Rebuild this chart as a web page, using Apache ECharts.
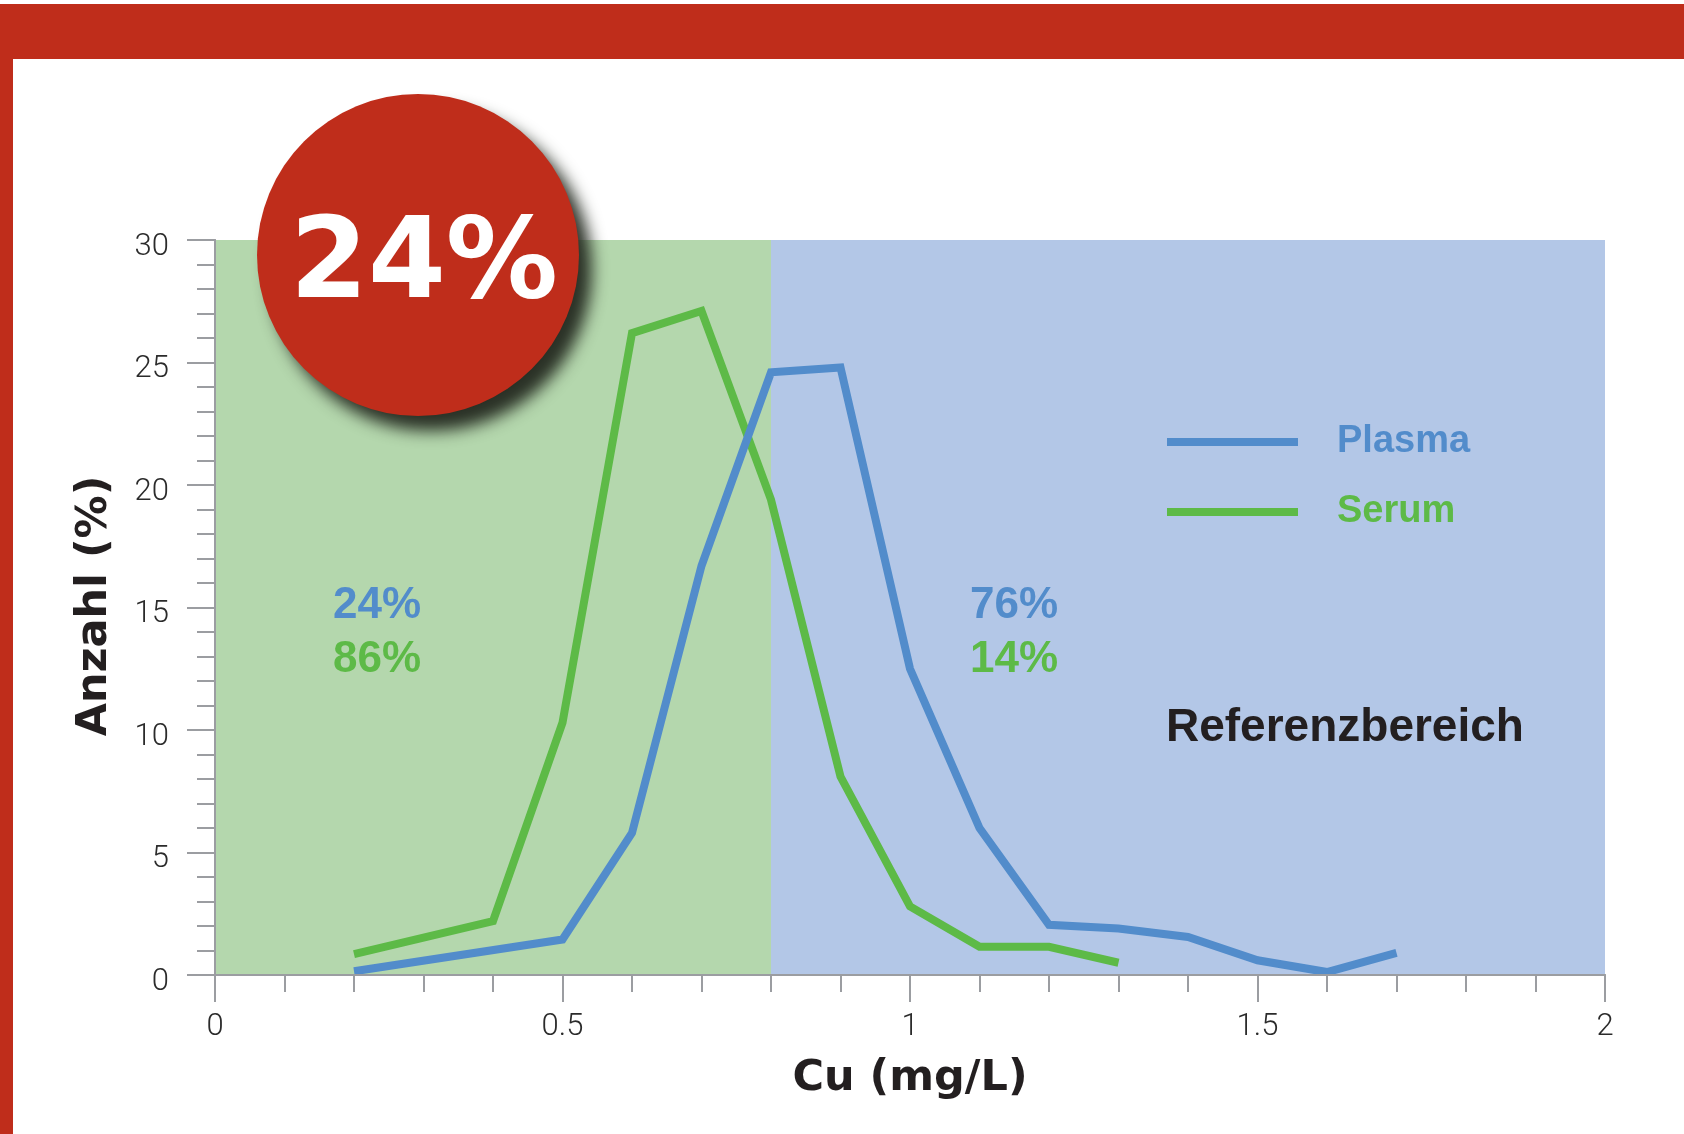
<!DOCTYPE html>
<html>
<head>
<meta charset="utf-8">
<script src="https://cdn.jsdelivr.net/npm/echarts@6/dist/echarts.min.js"></script>
<style>
  html, body { margin: 0; padding: 0; background: #ffffff; }
  #chart { width: 1684px; height: 1134px; }
</style>
</head>
<body>
<div id="chart"></div>
<script>
// Copper concentration (mg/L) and share of samples (%) per class
const plasmaCu  = [0.2, 0.5, 0.6, 0.7, 0.8, 0.9, 1.0, 1.1, 1.2, 1.3, 1.4, 1.5, 1.6, 1.7];
const plasmaPct = [0.15, 1.45, 5.8, 16.7, 24.6, 24.8, 12.5, 6.0, 2.05, 1.9, 1.55, 0.6, 0.12, 0.9];
const serumCu   = [0.2, 0.4, 0.5, 0.6, 0.7, 0.8, 0.9, 1.0, 1.1, 1.2, 1.3];
const serumPct  = [0.85, 2.2, 10.3, 26.2, 27.1, 19.4, 8.1, 2.8, 1.15, 1.15, 0.5];

// Reference range starts here and runs to the end of the axis
const referenceFrom = 0.8;
const cuAxisMax = 2;
const pctAxisMax = 30;

// Shares below / inside the reference range (Plasma, Serum)
const belowShares = ['24%', '86%'];
const insideShares = ['76%', '14%'];
const badgeText = '24%';

// Tick labels
const cuTickLabels  = { 0: '0', 0.5: '0.5', 1: '1', 1.5: '1.5', 2: '2' };
const pctTickLabels = { 0: '0', 5: '5', 10: '10', 15: '15', 20: '20', 25: '25', 30: '30' };

const seriesNames = ['Plasma', 'Serum'];
const BLUE = '#528ccb';
const GREEN = '#5dba47';
const RED = '#bf2d1b';
const AXIS_GREY = '#9b9da1';
const INK = '#231f20';

const pairs = (xs, ys) => xs.map((x, i) => [x, ys[i]]);

const tickFont = { fontFamily: 'Roboto', fontWeight: 300, fontSize: 31, color: '#2b2b2b' };
const shareFont = 'bold 44px "Liberation Sans"';

const chart = echarts.init(document.getElementById('chart'), null, { renderer: 'canvas' });

chart.setOption({
  animation: false,
  backgroundColor: '#ffffff',
  grid: { left: 215, right: 79, top: 240, bottom: 159, show: false },
  xAxis: [{
    type: 'value', min: 0, max: cuAxisMax, interval: 0.5, z: 5,
    axisLine: { show: true, lineStyle: { color: AXIS_GREY, width: 2 } },
    axisTick: { show: true, length: 27, lineStyle: { color: AXIS_GREY, width: 2 } },
    minorTick: { show: true, splitNumber: 5, length: 17, lineStyle: { color: AXIS_GREY, width: 2 } },
    splitLine: { show: false },
    axisLabel: Object.assign({ margin: 37, formatter: v => cuTickLabels[v] ?? '' }, tickFont),
    name: 'Cu (mg/L)', nameLocation: 'middle', nameGap: 82,
    nameTextStyle: { fontFamily: 'DejaVu Sans', fontWeight: 'bold', fontSize: 43, color: INK }
  }, {
    // closing line along the top of the plot
    type: 'value', position: 'top', min: 0, max: cuAxisMax, z: 5,
    axisLine: { show: true, lineStyle: { color: AXIS_GREY, width: 2 } },
    axisTick: { show: false }, axisLabel: { show: false }, splitLine: { show: false }
  }],
  yAxis: [{
    type: 'value', min: 0, max: pctAxisMax, interval: 5, z: 5,
    axisLine: { show: true, lineStyle: { color: AXIS_GREY, width: 2 } },
    axisTick: { show: true, length: 28, lineStyle: { color: AXIS_GREY, width: 2 } },
    minorTick: { show: true, splitNumber: 5, length: 18, lineStyle: { color: AXIS_GREY, width: 2 } },
    splitLine: { show: false },
    axisLabel: Object.assign({
      margin: 46, verticalAlign: 'top', lineHeight: 14,
      formatter: v => pctTickLabels[v] ?? ''
    }, tickFont)
  }, {
    // closing line along the right of the plot
    type: 'value', position: 'right', min: 0, max: pctAxisMax, z: 5,
    axisLine: { show: true, lineStyle: { color: AXIS_GREY, width: 2 } },
    axisTick: { show: false }, axisLabel: { show: false }, splitLine: { show: false }
  }],
  legend: {
    orient: 'vertical', left: 1162, top: 410, itemGap: 16,
    itemWidth: 131, itemHeight: 8, icon: 'rect',
    textStyle: { fontFamily: 'Liberation Sans', fontWeight: 'bold', fontSize: 38, lineHeight: 40, padding: [14, 0, 0, 34] },
    data: [
      { name: seriesNames[0], textStyle: { color: BLUE } },
      { name: seriesNames[1], textStyle: { color: GREEN } }
    ]
  },
  series: [{
    // shaded ranges: below the reference range and the reference range itself
    type: 'line', data: [], z: 1, silent: true,
    markArea: {
      silent: true,
      data: [
        [{ xAxis: 0, itemStyle: { color: '#b4d7ad' } }, { xAxis: referenceFrom }],
        [{ xAxis: referenceFrom, itemStyle: { color: '#b3c7e7' } }, { xAxis: cuAxisMax }]
      ]
    }
  }, {
    name: seriesNames[1], type: 'line', z: 3, symbol: 'none',
    color: GREEN, lineStyle: { color: GREEN, width: 8, join: 'miter' },
    data: pairs(serumCu, serumPct)
  }, {
    name: seriesNames[0], type: 'line', z: 4, symbol: 'none',
    color: BLUE, lineStyle: { color: BLUE, width: 8, join: 'miter' },
    data: pairs(plasmaCu, plasmaPct)
  }],
  graphic: [
    // red frame: band across the top and strip down the left edge
    { type: 'rect', z: 50, shape: { x: 0, y: 4, width: 1684, height: 55 }, style: { fill: RED } },
    { type: 'rect', z: 50, shape: { x: 0, y: 4, width: 13, height: 1130 }, style: { fill: RED } },
    // badge
    { type: 'circle', z: 100, shape: { cx: 418, cy: 255, r: 161 },
      style: { fill: RED, shadowBlur: 16, shadowColor: 'rgba(40,46,36,0.98)', shadowOffsetX: 13, shadowOffsetY: 15 } },
    { type: 'text', z: 101, x: 424, y: 268,
      style: { text: badgeText, fill: '#ffffff', font: 'bold 112px "DejaVu Sans"', textAlign: 'center', textVerticalAlign: 'middle' } },
    // y-axis title
    { type: 'text', z: 101, x: 95, y: 606, rotation: Math.PI / 2,
      style: { text: 'Anzahl (%)', fill: INK, font: 'bold 43px "DejaVu Sans"', textAlign: 'center', textVerticalAlign: 'middle' } },
    // shares below the reference range
    { type: 'text', z: 101, x: 377, y: 606,
      style: { text: belowShares[0], fill: BLUE, font: shareFont, textAlign: 'center', textVerticalAlign: 'middle' } },
    { type: 'text', z: 101, x: 377, y: 660,
      style: { text: belowShares[1], fill: GREEN, font: shareFont, textAlign: 'center', textVerticalAlign: 'middle' } },
    // shares inside the reference range
    { type: 'text', z: 101, x: 1014, y: 606,
      style: { text: insideShares[0], fill: BLUE, font: shareFont, textAlign: 'center', textVerticalAlign: 'middle' } },
    { type: 'text', z: 101, x: 1014, y: 660,
      style: { text: insideShares[1], fill: GREEN, font: shareFont, textAlign: 'center', textVerticalAlign: 'middle' } },
    { type: 'text', z: 101, x: 1166, y: 728,
      style: { text: 'Referenzbereich', fill: INK, font: 'bold 46px "Liberation Sans"', textAlign: 'left', textVerticalAlign: 'middle' } }
  ]
});
</script>
</body>
</html>
